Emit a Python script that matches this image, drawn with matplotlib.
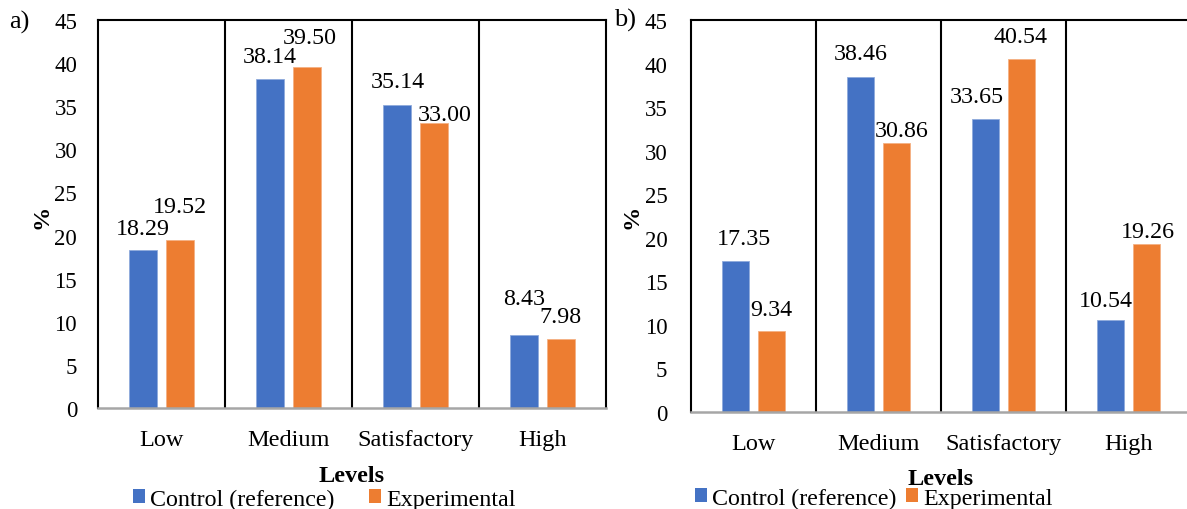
import matplotlib
matplotlib.use('Agg')
import matplotlib.pyplot as plt
from matplotlib.patches import Patch
import numpy as np

plt.rcParams['font.family'] = ['Liberation Serif', 'DejaVu Serif']

# ---------------- data ----------------
levels = ['Low', 'Medium', 'Satisfactory', 'High']
series = ['Control (reference)', 'Experimental']
a_control = [18.29, 38.14, 35.14, 8.43]
a_experimental = [19.52, 39.50, 33.00, 7.98]
b_control = [17.35, 38.46, 33.65, 10.54]
b_experimental = [9.34, 30.86, 40.54, 19.26]
y_ticks = [0, 5, 10, 15, 20, 25, 30, 35, 40, 45]

# ---------------- style ----------------
BLUE = '#4472C4'
ORANGE = '#ED7D31'
GRID_GRAY = '#A6A6A6'
W, H = 1187, 510
PX = 72 / 100  # pixel -> points

# label offsets (pixels, dx, dy) for the value labels
a_ctrl_off = [(0, 16), (-1, 17), (0, 18), (0, 31)]
a_exp_off = [(0, 28), (3, 24), (11, 3.5), (0, 17)]
b_ctrl_off = [(8, 17), (0, 18), (-8.5, 17), (-5, 14)]
b_exp_off = [(0, 16), (5, 7), (-1, 17), (2, 7)]

fig = plt.figure(figsize=(W / 100, H / 100), dpi=100)
axa = fig.add_axes([98 / W, 1 - 409 / H, (606 - 98) / W, (409 - 21) / H])
axb = fig.add_axes([691 / W, 1 - 413 / H, (1191 - 691) / W, (413 - 21) / H])

bw = 0.22
off = 0.143
x = np.arange(len(levels))


def draw(ax, ctrl, exp, ctrl_off, exp_off, ypad):
    ax.bar(x - off, ctrl, width=bw, color=BLUE, edgecolor='#8FAADC', linewidth=0.6, zorder=3)
    ax.bar(x + off, exp, width=bw, color=ORANGE, edgecolor='#F4B183', linewidth=0.6, zorder=3)
    for xi, v, (dx, dy) in zip(x - off, ctrl, ctrl_off):
        ax.annotate(f'{v:.2f}', xy=(xi, v), xytext=(dx * PX, dy * PX), textcoords='offset points',
                    ha='center', va='baseline', fontsize=17.3, color='black', zorder=5)
    for xi, v, (dx, dy) in zip(x + off, exp, exp_off):
        ax.annotate(f'{v:.2f}', xy=(xi, v), xytext=(dx * PX, dy * PX), textcoords='offset points',
                    ha='center', va='baseline', fontsize=17.3, color='black', zorder=5)
    ax.set_xlim(-0.5, len(levels) - 0.5)
    ax.set_ylim(0, 45)
    ax.set_yticks(y_ticks)
    ax.set_xticks(x)
    ax.set_xticklabels(levels)
    ax.tick_params(axis='y', length=0, pad=ypad, labelsize=16.5)
    ax.tick_params(axis='x', length=0, pad=15, labelsize=17.5)
    for xs in np.arange(0.5, len(levels) - 0.5, 1.0):
        ax.axvline(xs, color='black', lw=1.5, zorder=2)
    for s in ['top', 'right', 'left']:
        ax.spines[s].set_color('black')
        ax.spines[s].set_linewidth(1.5)
    ax.spines['bottom'].set_color(GRID_GRAY)
    ax.spines['bottom'].set_linewidth(1.8)
    ax.spines['bottom'].set_zorder(4)


draw(axa, a_control, a_experimental, a_ctrl_off, a_exp_off, 15)
draw(axb, b_control, b_experimental, b_ctrl_off, b_exp_off, 17)

# axis titles
fig.text(352 / W, 1 - 482 / H, 'Levels', ha='center', va='baseline', fontsize=17.5, fontweight='bold')
fig.text(941 / W, 1 - 485 / H, 'Levels', ha='center', va='baseline', fontsize=17.5, fontweight='bold')
fig.text(42 / W, 1 - 217 / H, '%', ha='center', va='center', rotation=90, fontsize=17.5, fontweight='bold')
fig.text(632 / W, 1 - 217 / H, '%', ha='center', va='center', rotation=90, fontsize=17.5, fontweight='bold')

# panel tags
fig.text(9 / W, 1 - 29 / H, 'a)', ha='left', va='baseline', fontsize=19)
fig.text(614 / W, 1 - 27 / H, 'b)', ha='left', va='baseline', fontsize=19)

# legends
handles = [Patch(facecolor=BLUE), Patch(facecolor=ORANGE)]
fig.legend(handles=handles, labels=series, loc='center', bbox_to_anchor=(324.5 / W, 1 - 500 / H),
           ncol=2, frameon=False, fontsize=17.3, handlelength=0.5, handleheight=0.5,
           handletextpad=0.2, columnspacing=1.45, borderpad=0, borderaxespad=0)
fig.legend(handles=handles, labels=series, loc='center', bbox_to_anchor=(874 / W, 1 - 499 / H),
           ncol=2, frameon=False, fontsize=17.3, handlelength=0.5, handleheight=0.5,
           handletextpad=0.2, columnspacing=0.4, borderpad=0, borderaxespad=0)

fig.savefig('out.png', dpi=100)
